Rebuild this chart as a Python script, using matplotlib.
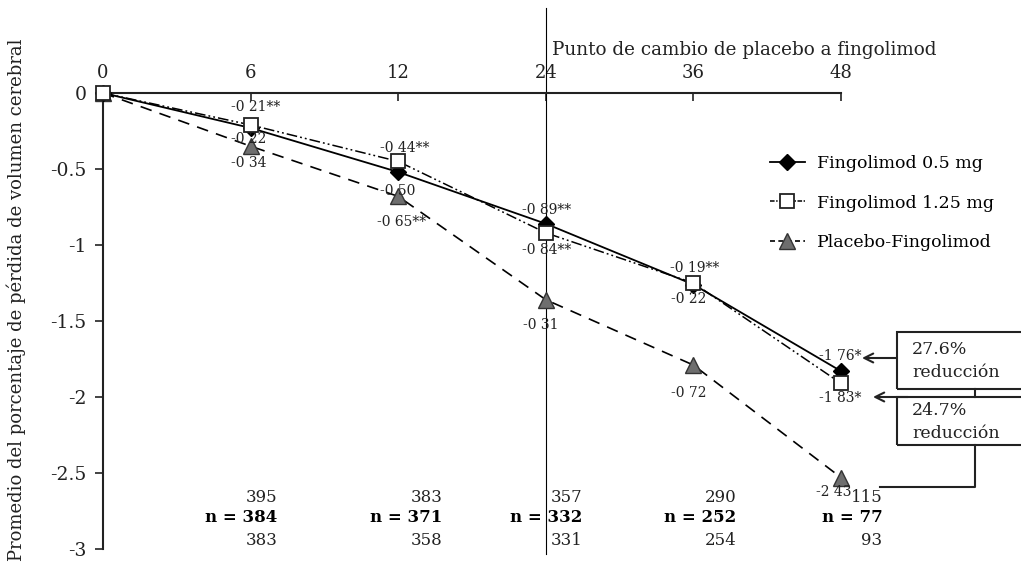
import matplotlib
matplotlib.use('Agg')
import matplotlib.pyplot as plt
from matplotlib.lines import Line2D
from matplotlib.patches import Rectangle

# datos (posiciones)
meses = ['0', '6', '12', '24', '36', '48']
fingo_05 = [0, -0.23, -0.52, -0.86, -1.26, -1.83]
fingo_125 = [0, -0.21, -0.45, -0.92, -1.25, -1.91]
placebo = [0, -0.35, -0.68, -1.36, -1.79, -2.53]

# etiquetas de los puntos (texto tal cual en la figura)
etq_05 = ['', '-0 22', '-0 50', '-0 89**', '-0 22', '-1 76*']
etq_125 = ['', '-0 21**', '-0 44**', '-0 84**', '-0 19**', '-1 83*']
etq_pla = ['', '-0 34', '-0 65**', '-0 31', '-0 72', '-2 43']

n_arriba = ['395', '383', '357', '290', '115']
n_medio = ['n = 384', 'n = 371', 'n = 332', 'n = 252', 'n = 77']
n_abajo = ['383', '358', '331', '254', '93']

W, H = 1021, 576
fig = plt.figure(figsize=(W / 100, H / 100), dpi=100)
ax = fig.add_axes([103 / W, 1 - 549 / H, 738 / W, 456 / H])

x = list(range(len(meses)))

ax.plot(x, fingo_05, color='black', lw=1.3, marker='D', ms=8,
        mfc='black', mec='black', clip_on=False, zorder=4)
ax.plot(x, fingo_125, color='black', lw=1.1, ls=(0, (7, 2, 1.2, 2, 1.2, 2)),
        marker='s', ms=10, mfc='white', mec='#222222', mew=1.3, clip_on=False, zorder=5)
ax.plot(x, placebo, color='black', lw=1.2, ls=(0, (7, 5)), marker='^', ms=11,
        mfc='#6e6e6e', mec='#333333', mew=1.0, clip_on=False, zorder=3)

ax.set_xlim(0, 5)
ax.set_ylim(-3, 0)
ax.set_xticks(x)
ax.set_xticklabels(meses)
ax.xaxis.tick_top()
ax.set_yticks([0, -0.5, -1, -1.5, -2, -2.5, -3])
ax.set_yticklabels(['0', '-0.5', '-1', '-1.5', '-2', '-2.5', '-3'])
ax.tick_params(axis='x', direction='in', length=6, width=1.2, pad=8,
               labelsize=13, colors='#222222')
ax.tick_params(axis='y', direction='out', length=6, width=1.2, pad=6,
               labelsize=13.5, colors='#222222')
for lab in ax.get_xticklabels() + ax.get_yticklabels():
    lab.set_family('DejaVu Serif')
ax.spines['right'].set_visible(False)
ax.spines['bottom'].set_visible(False)
for s in ['top', 'left']:
    ax.spines[s].set_linewidth(1.5)
    ax.spines[s].set_color('#222222')

ax.set_ylabel('Promedio del porcentaje de pérdida de volumen cerebral',
              family='DejaVu Serif', fontsize=13, color='#222222')
ax.yaxis.set_label_coords((26 - 103) / 738, (549 - 300) / 456)

# linea de cambio de placebo a fingolimod
ax.axvline(3, ymin=-0.01, ymax=1.186, color='black', lw=0.8, clip_on=False, zorder=2)
ax.text(3.04, 43 / 152, 'Punto de cambio de placebo a fingolimod', family='DejaVu Serif',
        fontsize=13.2, ha='left', va='center', color='#222222', clip_on=False)

# etiquetas de valores (desplazamientos en pixeles)
off_05 = [None, (-2, -11), (-1, -19), (1, 14), (-5, -14), (-1, 15)]
off_125 = [None, (5, 18), (6, 13), (1, -17), (1, 15), (-1, -15)]
off_pla = [None, (-2, -17), (3, -26), (-5, -25), (-5, -28), (-7, -14)]
for etqs, vals, offs in [(etq_05, fingo_05, off_05), (etq_125, fingo_125, off_125),
                         (etq_pla, placebo, off_pla)]:
    for i, t in enumerate(etqs):
        if not t:
            continue
        ax.annotate(t, (i, vals[i]), xytext=offs[i], textcoords='offset pixels',
                    ha='center', va='center', fontsize=10, family='DejaVu Serif',
                    color='#222222', zorder=6, annotation_clip=False)

# numero de pacientes
n_dx = [0.18, 0.30, 0.25, 0.29, 0.28]
for i in range(5):
    xi = i + 1 + n_dx[i]
    ax.text(xi, -2.658, n_arriba[i], ha='right', va='center', fontsize=12,
            family='DejaVu Serif', color='#222222')
    ax.text(xi, -2.796, n_medio[i], ha='right', va='center', fontsize=12,
            family='DejaVu Serif', fontweight='bold', color='black')
    ax.text(xi, -2.941, n_abajo[i], ha='right', va='center', fontsize=12,
            family='DejaVu Serif', color='#222222')

# leyenda
handles = [
    Line2D([], [], color='black', lw=1.3, marker='D', ms=8, mfc='black', mec='black'),
    Line2D([], [], color='black', lw=1.1, ls=(0, (3, 1, 1, 1)), marker='s', ms=10,
           mfc='white', mec='#222222', mew=1.3),
    Line2D([], [], color='black', lw=1.2, ls=(0, (3, 2)), marker='^', ms=11,
           mfc='#6e6e6e', mec='#333333'),
]
ax.legend(handles, ['Fingolimod 0.5 mg', 'Fingolimod 1.25 mg', 'Placebo-Fingolimod'],
          loc='upper left', bbox_to_anchor=(770 / W, 1 - 155 / H),
          bbox_transform=fig.transFigure, frameon=False, handlelength=2.0,
          handletextpad=0.7, labelspacing=1.3, borderpad=0, borderaxespad=0,
          prop={'family': 'DejaVu Serif', 'size': 12.5})


def fy(p):
    return 1 - p / H


# cajas de reduccion
fig.add_artist(Rectangle((897 / W, fy(389)), 0.2, (389 - 332) / H, transform=fig.transFigure,
                         fill=False, ec='#222222', lw=1.5))
fig.add_artist(Rectangle((897 / W, fy(445)), 0.2, (445 - 397) / H, transform=fig.transFigure,
                         fill=False, ec='#222222', lw=1.5))
fig.text(912 / W, fy(361), '27.6%\nreducción', family='DejaVu Serif', fontsize=12.5,
         ha='left', va='center', linespacing=1.4, color='#222222')
fig.text(912 / W, fy(422), '24.7%\nreducción', family='DejaVu Serif', fontsize=12.5,
         ha='left', va='center', linespacing=1.4, color='#222222')
fig.add_artist(Line2D([975 / W, 975 / W], [fy(389), fy(397)], transform=fig.transFigure,
                      color='#222222', lw=1.5))
fig.add_artist(Line2D([975 / W, 975 / W, 880 / W], [fy(445), fy(487), fy(487)],
                      transform=fig.transFigure, color='#222222', lw=1.5))
ax.annotate('', xy=(862 / W, fy(358)), xytext=(897 / W, fy(358)),
            xycoords='figure fraction', textcoords='figure fraction',
            arrowprops=dict(arrowstyle='->', color='#222222', lw=1.5,
                            mutation_scale=16, shrinkA=0, shrinkB=0))
ax.annotate('', xy=(873 / W, fy(397)), xytext=(908 / W, fy(397)),
            xycoords='figure fraction', textcoords='figure fraction',
            arrowprops=dict(arrowstyle='->', color='#222222', lw=1.5,
                            mutation_scale=16, shrinkA=0, shrinkB=0))

fig.savefig('out.png', dpi=100)
